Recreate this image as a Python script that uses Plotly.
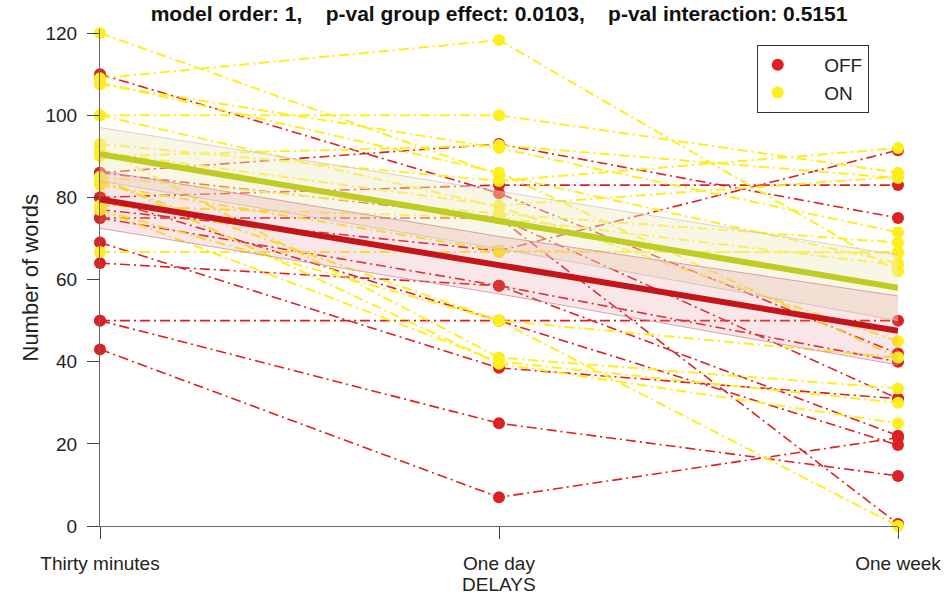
import plotly.graph_objects as go

# ---- data ----
delays = ["Thirty minutes", "One day", "One week"]

# OFF subjects (values at 30 min, 1 day, 1 week)
off_subjects = [
    [110, 81, 42],
    [86, 93, 75],
    [80, 83, 83],
    [77, 67, 91.5],
    [75, 75, 31],
    [75, 58.5, 22],
    [69, 38.5, 31],
    [64, 58.5, 40],
    [50, 50, 50],
    [50, 25, 12.2],
    [43, 7, 21.5],
    [80, 50, 19.7],
    [86, 75, 0.5],
]

# ON subjects
on_subjects = [
    [120, 85.5, 64],
    [109, 118.3, 62],
    [107.5, 92, 71.5],
    [100, 100, 86],
    [93, 84, 92],
    [91, 78, 85],
    [85, 76, 69],
    [83, 67, 66.5],
    [100, 77.7, 45],
    [77, 50, 41],
    [92, 41, 33.5],
    [77, 40, 30],
    [66.7, 66.7, 66.7],
    [85, 39.5, 25],
    [84, 50, 0],
    [78, 75, 63.5],
    [108, 86, 41],
    [90, 92.7, 84.7],
]

# model fit (mean) and confidence bands
off_mean = [79.5, 63.5, 47.5]
off_low = [72.5, 56.5, 39.2]
off_high = [86.5, 70.5, 56]
on_mean = [90.5, 74.2, 58]
on_low = [84, 67.5, 50]
on_high = [97, 81.5, 66]

NB = "\u00a0"
title_text = ("model order: 1," + NB * 4 + "p-val group effect: 0.0103," + NB * 4 +
              "p-val interaction: 0.5151")
group_names = ["OFF", "ON"]
x_title = "DELAYS"
y_title = "Number of words"

# ---- styles ----
RED = "rgb(222,32,32)"
YEL = "rgb(255,238,30)"
RED_MEAN = "rgb(196,22,26)"
YEL_MEAN = "rgb(190,204,36)"
DASH = "10px,4px,2px,4px"
FONT = "Liberation Sans, Arial, sans-serif"

fig = go.Figure()

for s in off_subjects:
    fig.add_trace(go.Scatter(
        x=delays, y=s, mode="lines+markers", showlegend=False, cliponaxis=False,
        line=dict(color=RED, width=1.6, dash=DASH),
        marker=dict(color=RED, size=12),
        hoverinfo="skip"))

for s in on_subjects:
    fig.add_trace(go.Scatter(
        x=delays, y=s, mode="lines+markers", showlegend=False, cliponaxis=False,
        line=dict(color=YEL, width=2, dash=DASH),
        marker=dict(color=YEL, size=12),
        hoverinfo="skip"))

# bands
fig.add_trace(go.Scatter(x=delays, y=on_high, mode="lines", showlegend=False,
                         line=dict(color="rgba(205,195,180,0.7)", width=1), hoverinfo="skip"))
fig.add_trace(go.Scatter(x=delays, y=on_low, mode="lines", showlegend=False, fill="tonexty",
                         fillcolor="rgba(240,234,195,0.45)",
                         line=dict(color="rgba(205,195,180,0.7)", width=1), hoverinfo="skip"))
fig.add_trace(go.Scatter(x=delays, y=off_high, mode="lines", showlegend=False,
                         line=dict(color="rgba(200,130,150,0.7)", width=1), hoverinfo="skip"))
fig.add_trace(go.Scatter(x=delays, y=off_low, mode="lines", showlegend=False, fill="tonexty",
                         fillcolor="rgba(222,130,140,0.2)",
                         line=dict(color="rgba(200,130,150,0.7)", width=1), hoverinfo="skip"))

# means
fig.add_trace(go.Scatter(x=delays, y=on_mean, mode="lines", showlegend=False,
                         line=dict(color=YEL_MEAN, width=6), hoverinfo="skip"))
fig.add_trace(go.Scatter(x=delays, y=off_mean, mode="lines", showlegend=False,
                         line=dict(color=RED_MEAN, width=6), hoverinfo="skip"))

# legend entries
for name, col in zip(group_names, [RED, YEL]):
    fig.add_trace(go.Scatter(x=[None], y=[None], mode="markers", name=NB * 5 + name,
                             marker=dict(color=col, size=12)))

fig.update_layout(
    width=946, height=595,
    margin=dict(l=100, r=48, t=29, b=69, autoexpand=False),
    paper_bgcolor="white", plot_bgcolor="white",
    font=dict(family=FONT, size=19, color="#222"),
    title=dict(text="<b>" + title_text + "</b>", x=0.5, xref="paper",
               y=1 - 14 / 595, yanchor="middle", font=dict(size=21, color="#111")),
    legend=dict(x=0.823, y=0.968, xanchor="left", yanchor="top", traceorder="normal",
                bgcolor="white", bordercolor="#333", borderwidth=1,
                font=dict(size=19), itemwidth=30, tracegroupgap=0),
    xaxis=dict(type="category", range=[0, 2], showgrid=False, zeroline=False,
               showline=True, linecolor="#666", linewidth=1,
               ticks="outside", ticklen=12, tickcolor="#444", ticklabelstandoff=8,
               automargin=False),
    yaxis=dict(range=[0, 121], showgrid=False, zeroline=False,
               showline=True, linecolor="#666", linewidth=1,
               ticks="outside", ticklen=12, tickcolor="#444", ticklabelstandoff=6,
               tickvals=[0, 20, 40, 60, 80, 100, 120], automargin=False),
    annotations=[
        dict(text=x_title, xref="paper", yref="paper", x=0.5, y=0, yshift=-58,
             xanchor="center", yanchor="middle", showarrow=False, font=dict(size=19)),
        dict(text=y_title, xref="paper", yref="paper", x=0, y=0.5, xshift=-70,
             xanchor="center", yanchor="middle", textangle=-90, showarrow=False,
             font=dict(size=22)),
    ],
)

fig.write_html("out.html", config={"displayModeBar": False},
               post_script="document.body.style.margin='0';document.body.style.overflow='hidden';")
